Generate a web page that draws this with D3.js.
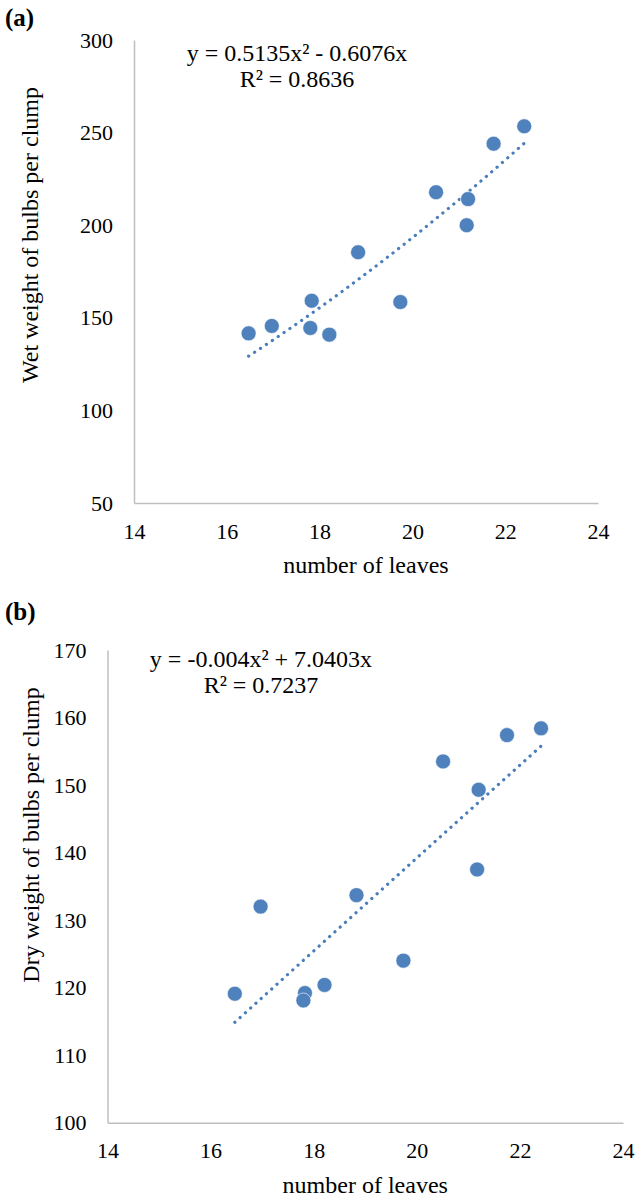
<!DOCTYPE html>
<meta charset="utf-8">
<style>
  body { margin: 0; background: #fff; }
  text { font-family: "Liberation Serif", "Times New Roman", serif; fill: #000; }
</style>
<svg width="637" height="1198"></svg>
<script src="https://d3js.org/d3.v7.min.js"></script>
<script>

// number of leaves (shared by both panels)
var leaves = [16.47, 16.97, 17.83, 17.80, 18.21, 18.83, 19.74, 20.51, 21.20, 21.17, 21.75, 22.41];
var wetWeight = [141.6, 145.6, 159.2, 144.5, 140.9, 185.4, 158.5, 217.8, 214.1, 200.0, 244.0, 253.4];
var dryWeight = [119.1, 132.0, 119.2, 118.1, 120.4, 133.7, 124.0, 153.5, 149.3, 137.5, 157.4, 158.4];

var xTicks = [14, 16, 18, 20, 22, 24];
var wetTicks = [50, 100, 150, 200, 250, 300];
var dryTicks = [100, 110, 120, 130, 140, 150, 160, 170];

// polynomial trend coefficients [a, b] for y = a x^2 + b x
var wetCoef = [0.5135, -0.6076];
var dryCoef = [-0.004, 7.0403];

var wetEquation = ["y = 0.5135x² - 0.6076x", "R² = 0.8636"];
var dryEquation = ["y = -0.004x² + 7.0403x", "R² = 0.7237"];

var svg = d3.select("svg");
var blue = "#4f81bd";

function panel(o) {
  var x = d3.scaleLinear().domain([14, 24]).range([o.left, o.right]);
  var y = d3.scaleLinear().domain(d3.extent(o.yTicks)).range([o.bottom, o.top]);
  var g = svg.append("g");

  g.append("text")
      .attr("x", 5).attr("y", o.labelY)
      .style("font-size", "25px").style("font-weight", "bold")
      .text(o.label);

  var ax = g.append("g")
      .attr("transform", "translate(0," + o.bottom + ")")
      .call(d3.axisBottom(x).tickValues(xTicks).tickSize(0).tickPadding(20));
  var ay = g.append("g")
      .attr("transform", "translate(" + o.left + ",0)")
      .call(d3.axisLeft(y).tickValues(o.yTicks).tickSize(0).tickPadding(21));
  [ax, ay].forEach(function(a) {
    a.select(".domain").attr("stroke", "#bfbfbf").attr("stroke-width", 1.5);
    a.selectAll("text").style("font-size", "22px").style("font-family", "Liberation Serif");
  });

  g.append("text")
      .attr("x", (o.left + o.right) / 2).attr("y", o.bottom + 70)
      .attr("text-anchor", "middle").style("font-size", "24px")
      .text("number of leaves");
  g.append("text")
      .attr("transform", "translate(" + o.titleX + "," + o.titleY + ") rotate(-90)")
      .attr("text-anchor", "middle").attr("dy", "0.35em").style("font-size", "24px")
      .text(o.yTitle);

  // trendline from the displayed equation, over the range of the data
  var xs = d3.extent(leaves);
  var trend = d3.range(0, 41).map(function(i) {
    var v = xs[0] + (xs[1] - xs[0]) * i / 40;
    return [v, o.coef[0] * v * v + o.coef[1] * v];
  });
  g.append("path")
      .datum(trend)
      .attr("fill", "none")
      .attr("stroke", "#4a7ebb")
      .attr("stroke-width", 3.2)
      .attr("stroke-linecap", "round")
      .attr("stroke-dasharray", "0.1 7")
      .attr("d", d3.line().x(function(d) { return x(d[0]); }).y(function(d) { return y(d[1]); }));

  g.append("g").selectAll("circle")
      .data(leaves.map(function(v, i) { return [v, o.values[i]]; }))
      .enter().append("circle")
      .attr("cx", function(d) { return x(d[0]); })
      .attr("cy", function(d) { return y(d[1]); })
      .attr("r", 7.5)
      .attr("fill", blue)
      .attr("stroke", "#fff").attr("stroke-width", 0.6);

  g.selectAll(".eq")
      .data(o.equation)
      .enter().append("text")
      .attr("x", o.eqX).attr("y", function(d, i) { return o.eqY + i * 26; })
      .attr("text-anchor", "middle").style("font-size", "24px")
      .text(function(d) { return d; });
}

panel({label: "(a)", labelY: 26, left: 134, right: 598, top: 40, bottom: 503,
  yTicks: wetTicks, values: wetWeight, coef: wetCoef, equation: wetEquation,
  eqX: 297, eqY: 61, titleX: 30, titleY: 235, yTitle: "Wet weight of bulbs per clump"});

panel({label: "(b)", labelY: 620, left: 107.5, right: 623, top: 650, bottom: 1122.7,
  yTicks: dryTicks, values: dryWeight, coef: dryCoef, equation: dryEquation,
  eqX: 261, eqY: 667, titleX: 31, titleY: 835, yTitle: "Dry weight of bulbs per clump"});

</script>
